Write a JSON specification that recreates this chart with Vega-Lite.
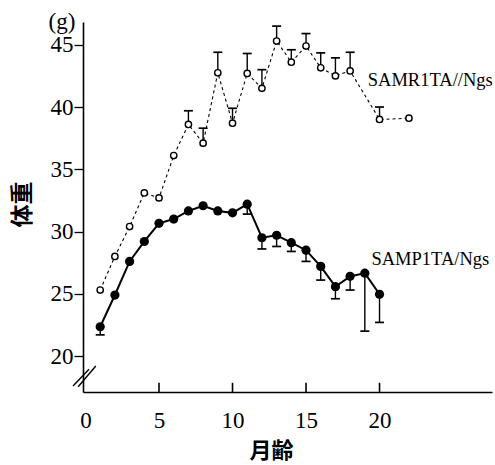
{
  "$schema": "https://vega.github.io/schema/vega-lite/v6.json",
  "width": 409,
  "height": 370,
  "autosize": {"type": "none"},
  "padding": {"left": 83, "top": 22, "right": 3, "bottom": 73},
  "background": "white",
  "config": {
    "view": {"stroke": null},
    "font": "Liberation Serif"
  },
  "datasets": {
    "weights": [
      {"strain": "SAMR1TA//Ngs", "month": 1, "weight": 25.3, "bar": null},
      {"strain": "SAMR1TA//Ngs", "month": 2, "weight": 28.0, "bar": null},
      {"strain": "SAMR1TA//Ngs", "month": 3, "weight": 30.4, "bar": null},
      {"strain": "SAMR1TA//Ngs", "month": 4, "weight": 33.1, "bar": null},
      {"strain": "SAMR1TA//Ngs", "month": 5, "weight": 32.7, "bar": null},
      {"strain": "SAMR1TA//Ngs", "month": 6, "weight": 36.1, "bar": null},
      {"strain": "SAMR1TA//Ngs", "month": 7, "weight": 38.6, "bar": 39.7},
      {"strain": "SAMR1TA//Ngs", "month": 8, "weight": 37.1, "bar": 38.3},
      {"strain": "SAMR1TA//Ngs", "month": 9, "weight": 42.75, "bar": 44.4},
      {"strain": "SAMR1TA//Ngs", "month": 10, "weight": 38.7, "bar": 39.9},
      {"strain": "SAMR1TA//Ngs", "month": 11, "weight": 42.7, "bar": 44.3},
      {"strain": "SAMR1TA//Ngs", "month": 12, "weight": 41.5, "bar": 43.0},
      {"strain": "SAMR1TA//Ngs", "month": 13, "weight": 45.3, "bar": 46.5},
      {"strain": "SAMR1TA//Ngs", "month": 14, "weight": 43.6, "bar": 44.6},
      {"strain": "SAMR1TA//Ngs", "month": 15, "weight": 44.9, "bar": 45.9},
      {"strain": "SAMR1TA//Ngs", "month": 16, "weight": 43.15, "bar": 44.35},
      {"strain": "SAMR1TA//Ngs", "month": 17, "weight": 42.5, "bar": 43.95},
      {"strain": "SAMR1TA//Ngs", "month": 18, "weight": 42.9, "bar": 44.4},
      {"strain": "SAMR1TA//Ngs", "month": 20, "weight": 39.0, "bar": 40.0},
      {"strain": "SAMR1TA//Ngs", "month": 22, "weight": 39.1, "bar": null},
      {"strain": "SAMP1TA/Ngs", "month": 1, "weight": 22.35, "bar": 21.7},
      {"strain": "SAMP1TA/Ngs", "month": 2, "weight": 24.9, "bar": null},
      {"strain": "SAMP1TA/Ngs", "month": 3, "weight": 27.6, "bar": null},
      {"strain": "SAMP1TA/Ngs", "month": 4, "weight": 29.2, "bar": null},
      {"strain": "SAMP1TA/Ngs", "month": 5, "weight": 30.66, "bar": null},
      {"strain": "SAMP1TA/Ngs", "month": 6, "weight": 31.0, "bar": null},
      {"strain": "SAMP1TA/Ngs", "month": 7, "weight": 31.65, "bar": null},
      {"strain": "SAMP1TA/Ngs", "month": 8, "weight": 32.07, "bar": null},
      {"strain": "SAMP1TA/Ngs", "month": 9, "weight": 31.65, "bar": null},
      {"strain": "SAMP1TA/Ngs", "month": 10, "weight": 31.5, "bar": null},
      {"strain": "SAMP1TA/Ngs", "month": 11, "weight": 32.2, "bar": 31.4},
      {"strain": "SAMP1TA/Ngs", "month": 12, "weight": 29.5, "bar": 28.6},
      {"strain": "SAMP1TA/Ngs", "month": 13, "weight": 29.7, "bar": 28.8},
      {"strain": "SAMP1TA/Ngs", "month": 14, "weight": 29.1, "bar": 28.4},
      {"strain": "SAMP1TA/Ngs", "month": 15, "weight": 28.5, "bar": 27.6},
      {"strain": "SAMP1TA/Ngs", "month": 16, "weight": 27.2, "bar": 26.1},
      {"strain": "SAMP1TA/Ngs", "month": 17, "weight": 25.57, "bar": 24.6},
      {"strain": "SAMP1TA/Ngs", "month": 18, "weight": 26.4, "bar": 25.3},
      {"strain": "SAMP1TA/Ngs", "month": 19, "weight": 26.65, "bar": 22.0},
      {"strain": "SAMP1TA/Ngs", "month": 20, "weight": 24.96, "bar": 22.7}
    ],
    "labels": [
      {"month": 19.2, "weight": 42.2, "text": "SAMR1TA//Ngs"},
      {"month": 19.45, "weight": 27.8, "text": "SAMP1TA/Ngs"}
    ],
    "unit": [
      {"month": -1.6, "weight": 46.85, "text": "(g)"}
    ],
    "breaks": [
      {"x1": -0.85, "y1": 17.59, "x2": 0.24, "y2": 18.93},
      {"x1": -0.5, "y1": 17.53, "x2": 0.7, "y2": 19.2}
    ]
  },
  "layer": [
    {
      "data": {"name": "weights"},
      "transform": [{"filter": "datum.strain === 'SAMR1TA//Ngs'"}],
      "mark": {"type": "line", "color": "black", "strokeWidth": 1.1, "strokeDash": [3, 3]},
      "encoding": {
        "x": {
          "field": "month", "type": "quantitative",
          "scale": {"domain": [-0.17, 27.65], "nice": false, "zero": false},
          "axis": {
            "title": "月齢", "values": [0, 5, 10, 15, 20],
            "grid": false, "domainColor": "black", "domainWidth": 1.6,
            "ticks": false,
            "labelFont": "Liberation Serif", "labelFontSize": 23, "labelColor": "black",
            "labelPadding": 17, "labelDx": 5,
            "titleFont": "Noto Sans CJK JP", "titleFontSize": 22, "titleFontWeight": "bold",
            "titleColor": "black", "titleX": 188, "titlePadding": 8
          }
        },
        "y": {
          "field": "weight", "type": "quantitative",
          "scale": {"domain": [17.11, 46.83], "nice": false, "zero": false},
          "axis": {
            "title": "体重", "values": [20, 25, 30, 35, 40, 45],
            "grid": false, "domainColor": "black", "domainWidth": 1.6,
            "tickColor": "black", "tickWidth": 1.3, "tickSize": 9,
            "labelFont": "Liberation Serif", "labelFontSize": 23, "labelColor": "black",
            "labelPadding": 1,
            "titleFont": "Noto Sans CJK JP", "titleFontSize": 23, "titleFontWeight": "bold",
            "titleColor": "black", "titlePadding": 16, "titleY": 182
          }
        }
      }
    },
    {
      "data": {"name": "weights"},
      "transform": [{"filter": "datum.strain === 'SAMP1TA/Ngs' && datum.month % 5 === 0"}],
      "mark": {"type": "rule", "color": "black", "strokeWidth": 1.6, "zindex": 2},
      "encoding": {
        "x": {"field": "month", "type": "quantitative"},
        "y": {"datum": 17.11},
        "y2": {"datum": 17.85}
      }
    },
    {
      "data": {"name": "weights"},
      "transform": [{"filter": "datum.strain === 'SAMP1TA/Ngs'"}],
      "mark": {"type": "line", "color": "black", "strokeWidth": 2},
      "encoding": {
        "x": {"field": "month", "type": "quantitative"},
        "y": {"field": "weight", "type": "quantitative"}
      }
    },
    {
      "data": {"name": "weights"},
      "transform": [{"filter": "datum.bar != null"}],
      "mark": {"type": "rule", "color": "black", "strokeWidth": 1.4},
      "encoding": {
        "x": {"field": "month", "type": "quantitative"},
        "y": {"field": "weight", "type": "quantitative"},
        "y2": {"field": "bar"}
      }
    },
    {
      "data": {"name": "weights"},
      "transform": [{"filter": "datum.bar != null"}],
      "mark": {"type": "tick", "color": "black", "orient": "horizontal", "size": 9, "thickness": 1.7, "opacity": 1},
      "encoding": {
        "x": {"field": "month", "type": "quantitative"},
        "y": {"field": "bar", "type": "quantitative"}
      }
    },
    {
      "data": {"name": "weights"},
      "transform": [{"filter": "datum.strain === 'SAMR1TA//Ngs'"}],
      "mark": {"type": "point", "shape": "circle", "filled": true, "fill": "white", "stroke": "black", "strokeWidth": 1.4, "size": 40, "opacity": 1},
      "encoding": {
        "x": {"field": "month", "type": "quantitative"},
        "y": {"field": "weight", "type": "quantitative"}
      }
    },
    {
      "data": {"name": "weights"},
      "transform": [{"filter": "datum.strain === 'SAMP1TA/Ngs'"}],
      "mark": {"type": "point", "shape": "circle", "filled": true, "color": "black", "size": 85, "opacity": 1},
      "encoding": {
        "x": {"field": "month", "type": "quantitative"},
        "y": {"field": "weight", "type": "quantitative"}
      }
    },
    {
      "data": {"name": "labels"},
      "mark": {"type": "text", "align": "left", "baseline": "middle", "font": "Liberation Serif", "fontSize": 18.5, "color": "black"},
      "encoding": {
        "x": {"field": "month", "type": "quantitative"},
        "y": {"field": "weight", "type": "quantitative"},
        "text": {"field": "text"}
      }
    },
    {
      "data": {"name": "unit"},
      "mark": {"type": "text", "align": "center", "baseline": "middle", "font": "Liberation Serif", "fontSize": 23, "color": "black"},
      "encoding": {
        "x": {"field": "month", "type": "quantitative"},
        "y": {"field": "weight", "type": "quantitative"},
        "text": {"field": "text"}
      }
    },
    {
      "data": {"name": "breaks"},
      "mark": {"type": "rule", "color": "black", "strokeWidth": 1.4},
      "encoding": {
        "x": {"field": "x1", "type": "quantitative"},
        "y": {"field": "y1", "type": "quantitative"},
        "x2": {"field": "x2"},
        "y2": {"field": "y2"}
      }
    }
  ]
}
